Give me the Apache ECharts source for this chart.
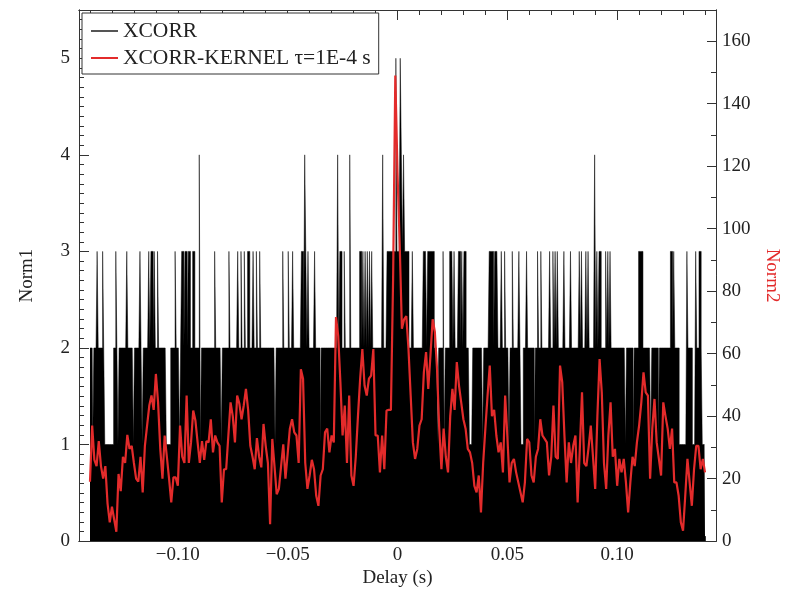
<!DOCTYPE html>
<html><head><meta charset="utf-8">
<script src="https://cdn.jsdelivr.net/npm/echarts@6/dist/echarts.min.js"></script>
<style>html,body{margin:0;padding:0;background:#fff}#c{width:792px;height:593px}</style>
</head><body><div id="c"></div>
<script>
// XCORR-KERNEL curve (Norm2), one value per 1 ms from -0.140 s to 0.140 s
const kernelStart = -0.140;
const kernelStep = 0.001;
const kernelValues = [
19,37,26,24,32,24,20,24,12,6,
11,7,3,21.5,16,27,25,34,29.5,30.5,
25,20,19,27,15.6,30.5,37,43.4,46.6,42,
53.5,44.4,29.5,20,33.8,27,20,12.4,20.4,20.4,
17.7,37,27,25,46.6,25,31.6,41.8,38.6,31.6,
25,32,26,32,31.6,39,28.4,33.8,31.6,30.5,
12.4,23,23,33.8,44.4,40,31.6,46.6,
44,
39,43.4,48.7,42,30.5,27,23,33,27,23.6,
37.5,30.5,25,5.4,32.7,24,15,16.7,24,31,
20,28,36,39,34.8,33.8,25,55,52,25,
16.7,21,26,23,14.5,11.3,21,23,34.8,36,
28.4,33.8,31.6,71.7,65.8,50.9,33.8,43.4,25,46.6,
21,17.7,27,40,52,61.5,49.8,46.6,52,53,
61.5,33.8,33.8,22,33.8,23,41.8,42,42,84,
149,118,95,68,
71,72,61.5,46.6,31.6,26.3,29.5,37,39,54,
60.5,48.7,59.4,71,67,55,36,23,36,27,
22,40,48.7,42,57.3,49.8,44.4,39,36,29.5,
28.4,25,17.7,15.6,21,9.2,25,36,46.6,56.2,
40,42,33.8,28.4,31.6,22,46.6,33.8,18.8,25,
26.3,22,18.8,15.6,12.4,18.8,32.7,31.6,21,18.8,
27,29.5,39,33.8,32.7,31.6,21,27,43.4,27,
26.3,
56.2,50.9,33.8,18.8,31.6,25,30.5,33.8,12.4,29.5,
47.6,25,24,30,37,27,16.7,40,58.3,47.6,
25,16.7,33.8,44.4,27,29.5,17.7,26.3,22,26.3,
18.8,9.2,18.8,27,24,31.6,37,44.4,54,47.6,
46.6,20,36,45.5,31.6,26.3,21,44.4,40,36,
29.5,36,18.8,18.8,14.5,6,3.3,14.5,26.3,18.8,
11.3,23,30.5,30.5,23,26.3,22
];

// XCORR histogram (Norm1): 0.5 ms bins; most bins hold 2 counts,
// the delays listed below hold 1, 3, 4 or 5 counts
const histStart = -0.140;
const histEnd = 0.140;
const histBin = 0.0005;
const histBase = 2;
const histLevel1 = [-0.1385,-0.133,-0.1325,-0.132,-0.1315,-0.131,-0.1305,-0.130,-0.1295,-0.127,-0.120,-0.116,
  -0.105,-0.1045,-0.104,-0.1035,-0.099,-0.0895,-0.080,-0.0555,-0.035,0.0185,0.0215,0.033,0.0335,0.034,0.039,
  0.051,0.0565,0.057,0.0625,0.104,0.1075,0.1155,0.119,0.1285,0.129,0.1295,0.130,0.1305,0.131,0.1315,
  0.1345,0.135,0.1355,0.139,0.1395,0.140];
const histLevel3 = [-0.1365,-0.134,-0.128,-0.123,-0.117,-0.113,-0.112,-0.1115,-0.1105,-0.109,-0.101,-0.098,
  -0.0975,-0.0965,-0.096,-0.095,-0.0945,-0.093,-0.0925,-0.083,-0.0765,-0.0725,-0.071,-0.0695,-0.068,-0.0675,
  -0.0655,-0.064,-0.0625,-0.052,-0.0495,-0.0475,-0.0435,-0.043,-0.0415,-0.0405,-0.0375,-0.026,-0.0255,-0.024,
  -0.017,-0.0165,-0.0155,-0.0145,-0.0135,-0.0125,-0.0115,-0.0045,-0.004,-0.0035,-0.003,-0.0025,-0.002,-0.0015,
  -0.001,0,0.0005,0.001,0.0025,0.0035,0.004,0.0045,0.005,0.007,0.012,0.0125,0.013,0.014,0.0145,0.015,0.0155,
  0.016,0.0165,0.021,0.024,0.0245,0.025,0.026,0.028,0.0285,0.0295,0.0305,0.031,0.042,0.0425,0.043,0.0435,
  0.0445,0.045,0.0455,0.0475,0.049,0.0525,0.0555,0.059,0.064,0.0655,0.0695,0.071,0.072,0.073,0.076,0.079,
  0.083,0.084,0.086,0.087,0.091,0.092,0.0925,0.095,0.096,0.097,0.110,0.1105,0.111,0.1115,0.1245,0.125,0.126,
  0.132,0.136,0.1375,0.138];
const histLevel4 = [-0.090,-0.042,-0.027,-0.0215,-0.0065,0.002,0.003,0.090];
const histLevel5 = [-0.0005,0.0015];

// axis ticks and labels
const xMajorTicks = [-0.10,-0.05,0,0.05,0.10];
const xMinorTicks = [-0.14,-0.13,-0.12,-0.11,-0.09,-0.08,-0.07,-0.06,-0.04,-0.03,-0.02,-0.01,
  0.01,0.02,0.03,0.04,0.06,0.07,0.08,0.09,0.11,0.12,0.13,0.14];
const y1MajorTicks = [0,1,2,3,4,5];
const y2MajorTicks = [0,20,40,60,80,100,120,140,160];
const y2MinorTicks = [10,30,50,70,90,110,130,150,170];
const y1MinorTicks = [];
for (let i = 1; i < 55; i++) { if (i % 10 !== 0) y1MinorTicks.push(+(i / 10).toFixed(1)); }

const histCount = Math.round((histEnd - histStart) / histBin) + 1;
const histValues = new Array(histCount).fill(histBase);
function setLevel(list, level) {
  list.forEach(d => {
    const k = Math.round((d - histStart) / histBin);
    if (k >= 0 && k < histCount) histValues[k] = level;
  });
}
setLevel(histLevel1, 1); setLevel(histLevel3, 3); setLevel(histLevel4, 4); setLevel(histLevel5, 5);
const histData = histValues.map((v, k) => [+(histStart + k * histBin).toFixed(4), v]);
const kernelData = kernelValues.map((v, i) => [+(kernelStart + i * kernelStep).toFixed(3), v]);

const FONT = 'Liberation Serif';
const AX = '#333';
const RED = '#e32b2b';
const fmtX = v => Math.abs(v) < 1e-9 ? '0' : (v < 0 ? '\u2212' : '') + Math.abs(v).toFixed(2);

function xAx(pos, ticks, len, labels) {
  return {
    type: 'value', position: pos, min: -0.145, max: 0.145,
    axisLine: { show: true, onZero: false, lineStyle: { color: AX, width: 1 } },
    axisTick: { show: true, inside: true, length: len, customValues: ticks, lineStyle: { color: AX } },
    axisLabel: labels ? { show: true, customValues: ticks, formatter: fmtX, color: '#222',
      fontFamily: FONT, fontSize: 19, margin: 4 } : { show: false },
    splitLine: { show: false }
  };
}
function yAx(pos, min, max, ticks, len, labels, extra) {
  return Object.assign({
    type: 'value', position: pos, min: min, max: max,
    axisLine: { show: true, onZero: false, lineStyle: { color: AX, width: 1 } },
    axisTick: { show: true, inside: true, length: len, customValues: ticks, lineStyle: { color: AX } },
    axisLabel: labels ? { show: true, customValues: ticks, color: '#222',
      fontFamily: FONT, fontSize: 19, margin: pos === 'left' ? 9 : 6 } : { show: false },
    splitLine: { show: false }
  }, extra || {});
}

const xBottom = xAx('bottom', xMajorTicks, 10, true);
xBottom.name = 'Delay (s)';
xBottom.nameLocation = 'middle';
xBottom.nameGap = 26;
xBottom.nameTextStyle = { fontFamily: FONT, fontSize: 19, color: '#222' };

const chart = echarts.init(document.getElementById('c'), null, { renderer: 'canvas' });
chart.setOption({
  animation: false,
  backgroundColor: '#fff',
  grid: { left: 79, right: 76, top: 10, bottom: 51, containLabel: false },
  legend: {
    orient: 'vertical', left: 82, top: 13,
    backgroundColor: '#fff', borderColor: AX, borderWidth: 1, borderRadius: 0,
    padding: [7, 8, 5, 9], itemGap: 5, itemWidth: 27, itemHeight: 2,
    textStyle: { fontFamily: FONT, fontSize: 21.5, color: '#222' },
    data: [
      { name: 'XCORR', icon: 'rect', itemStyle: { color: '#555' } },
      { name: 'XCORR-KERNEL \u03c4=1E-4 s', icon: 'rect', itemStyle: { color: RED } }
    ]
  },
  xAxis: [
    xBottom,
    xAx('bottom', xMinorTicks, 5, false),
    xAx('top', xMajorTicks, 10, false),
    xAx('top', xMinorTicks, 5, false)
  ],
  yAxis: [
    yAx('left', 0, 5.5, y1MajorTicks, 10, true, {
      name: 'Norm1', nameLocation: 'middle', nameRotate: 90, nameGap: 42,
      nameTextStyle: { fontFamily: FONT, fontSize: 19, color: '#222' } }),
    yAx('left', 0, 5.5, y1MinorTicks, 5, false),
    yAx('right', 0, 170, y2MajorTicks, 9, true, {
      name: 'Norm2', nameLocation: 'middle', nameRotate: -90, nameGap: 46,
      nameTextStyle: { fontFamily: FONT, fontSize: 19, color: RED } }),
    yAx('right', 0, 170, y2MinorTicks, 5, false)
  ],
  series: [
    {
      type: 'line', name: 'XCORR', data: histData, step: 'middle', symbol: 'none',
      xAxisIndex: 0, yAxisIndex: 0, z: 2, silent: true,
      lineStyle: { color: '#000', width: 0.5 }, itemStyle: { color: '#000' },
      areaStyle: { color: '#000', opacity: 1 }
    },
    {
      type: 'line', name: 'XCORR-KERNEL \u03c4=1E-4 s', data: kernelData, symbol: 'none',
      xAxisIndex: 0, yAxisIndex: 2, z: 3, silent: true,
      lineStyle: { color: RED, width: 2.2 }, itemStyle: { color: RED }
    }
  ]
});
</script>
</body></html>
